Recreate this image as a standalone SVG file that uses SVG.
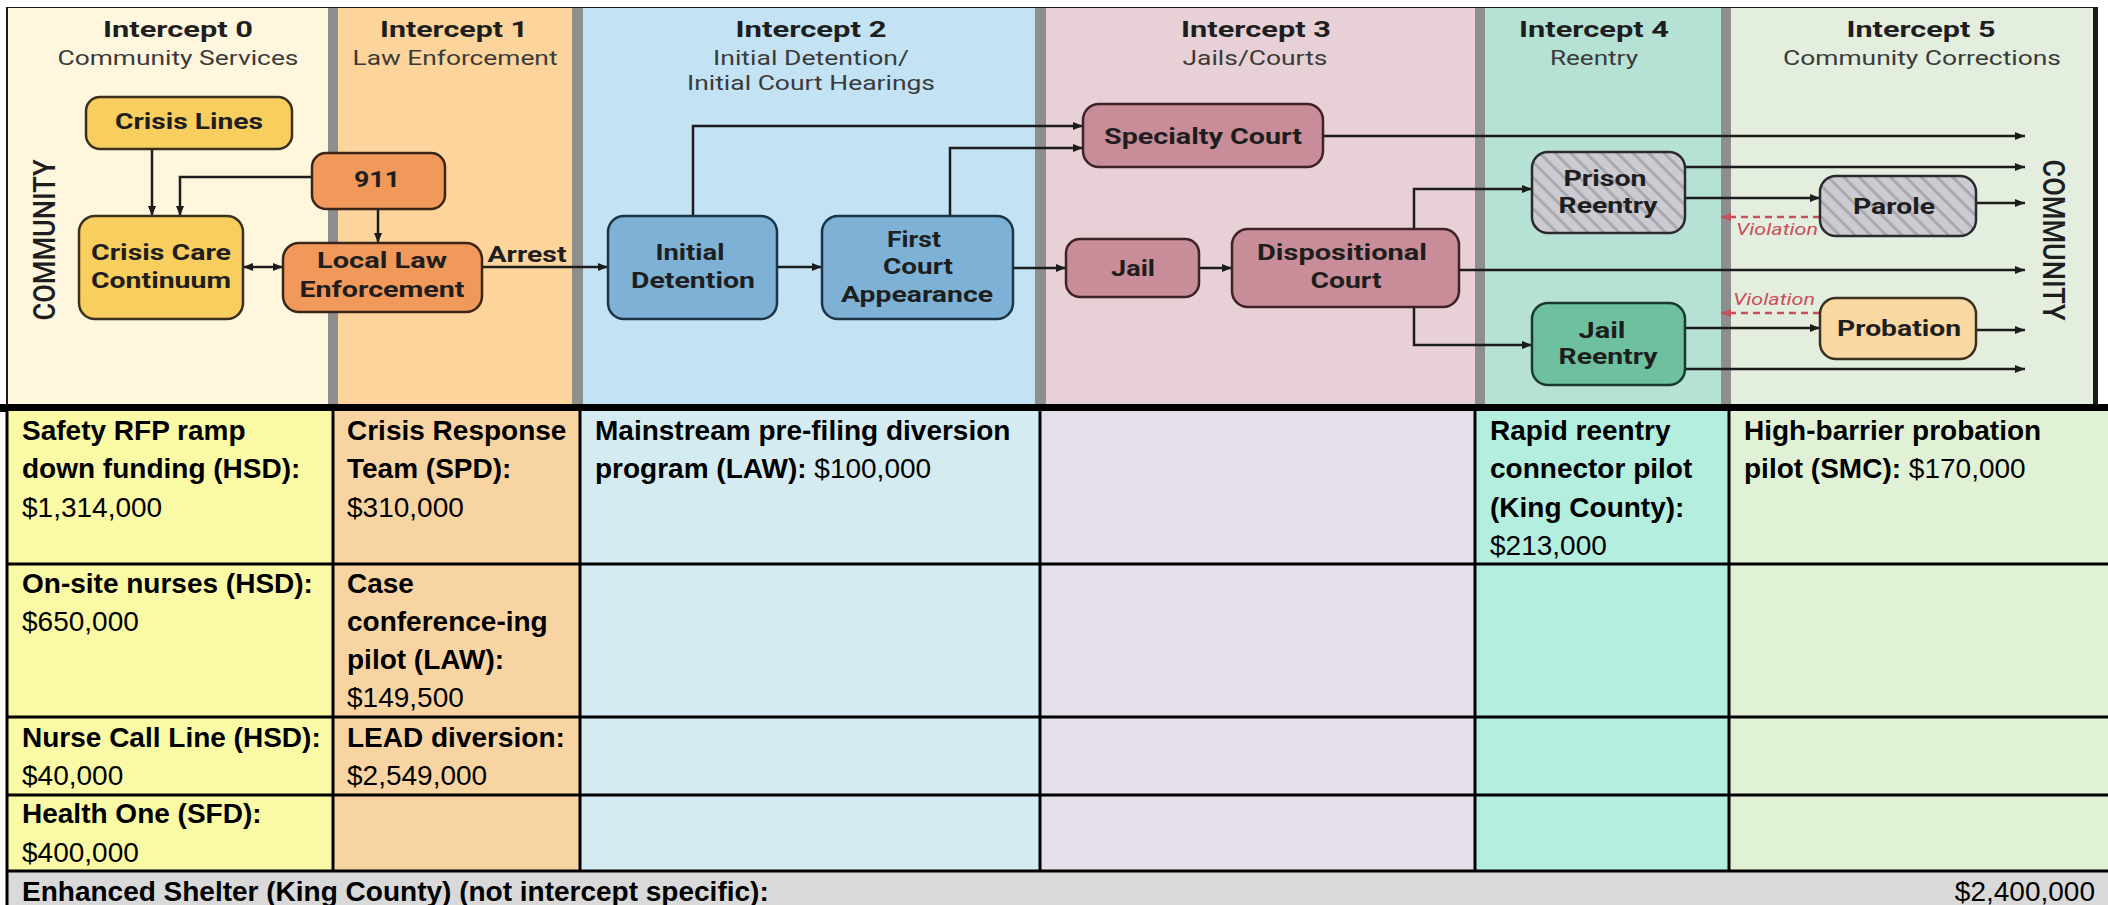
<svg xmlns="http://www.w3.org/2000/svg" width="2108" height="905" viewBox="0 0 2108 905">
<style>
.t{font-family:Roboto,"Liberation Sans",sans-serif;font-weight:bold;font-size:22.5px;fill:#1e1e1e;text-anchor:middle}
.st{font-family:Roboto,"Liberation Sans",sans-serif;font-weight:normal;font-size:21px;fill:#3a3a3a;text-anchor:middle}
.nt{font-family:Roboto,"Liberation Sans",sans-serif;font-weight:bold;font-size:22.5px;fill:#1e1e1e;text-anchor:middle}
.cm{font-family:Roboto,"Liberation Sans",sans-serif;font-weight:500;font-size:32px;fill:#1e1e1e;text-anchor:middle}
.vio{font-family:Roboto,"Liberation Sans",sans-serif;font-style:italic;font-size:17px;fill:#c94f5c}
.ln{fill:none;stroke:#1c1c1c;stroke-width:2.5}
.dash{fill:none;stroke:#c94f5c;stroke-width:2.5;stroke-dasharray:7 5}
.box{stroke-width:2.5}
.sep{fill:#8e8e8e}
.b{font-family:"Liberation Sans",Arial,sans-serif;font-weight:bold;font-size:28px;fill:#000}
.r{font-weight:normal}
.grid{stroke:#000;stroke-width:3;fill:none}
</style>
<defs>
<marker id="ah" viewBox="0 0 10 10" refX="10" refY="5" markerWidth="13" markerHeight="10" markerUnits="userSpaceOnUse" orient="auto-start-reverse"><path d="M0,1 L10,5 L0,9 z" fill="#1c1c1c"/></marker>
<marker id="ahr" viewBox="0 0 10 10" refX="10" refY="5" markerWidth="12" markerHeight="10" markerUnits="userSpaceOnUse" orient="auto"><path d="M0,1 L10,5 L0,9 z" fill="#c94f5c"/></marker>
<pattern id="hatch" patternUnits="userSpaceOnUse" width="11" height="11" patternTransform="rotate(-45)"><rect width="11" height="11" fill="#cbcbd1"/><rect x="0" y="0" width="3" height="11" fill="#a9a9b2"/></pattern>
</defs>
<rect width="2108" height="905" fill="#ffffff"/>
<g id="bands">
<rect x="6" y="7" width="2092" height="398" fill="#1a1a1a"/>
<rect x="8" y="8" width="320" height="397" fill="#fef7de"/>
<rect x="338" y="8" width="234" height="397" fill="#fdd49b"/>
<rect x="583" y="8" width="452" height="397" fill="#c3e3f4"/>
<rect x="1046" y="8" width="429" height="397" fill="#e7d0d6"/>
<rect x="1485" y="8" width="236" height="397" fill="#b6e1d5"/>
<rect x="1731" y="8" width="362" height="397" fill="#e3eede"/>
<rect class="sep" x="328" y="8" width="10" height="397"/>
<rect class="sep" x="572" y="8" width="11" height="397"/>
<rect class="sep" x="1035" y="8" width="11" height="397"/>
<rect class="sep" x="1475" y="8" width="10" height="397"/>
<rect class="sep" x="1721" y="8" width="10" height="397"/>
</g>
<g id="titles">
<text class="t" x="178" y="37" textLength="150" lengthAdjust="spacingAndGlyphs">Intercept 0</text>
<text class="st" x="178" y="65" textLength="241" lengthAdjust="spacingAndGlyphs">Community Services</text>
<text class="t" x="454" y="37" textLength="148" lengthAdjust="spacingAndGlyphs">Intercept 1</text>
<text class="st" x="455" y="65" textLength="205" lengthAdjust="spacingAndGlyphs">Law Enforcement</text>
<text class="t" x="811" y="37" textLength="151" lengthAdjust="spacingAndGlyphs">Intercept 2</text>
<text class="st" x="811" y="65" textLength="196" lengthAdjust="spacingAndGlyphs">Initial Detention/</text>
<text class="st" x="811" y="90" textLength="248" lengthAdjust="spacingAndGlyphs">Initial Court Hearings</text>
<text class="t" x="1256" y="37" textLength="150" lengthAdjust="spacingAndGlyphs">Intercept 3</text>
<text class="st" x="1255" y="65" textLength="145" lengthAdjust="spacingAndGlyphs">Jails/Courts</text>
<text class="t" x="1594" y="37" textLength="150" lengthAdjust="spacingAndGlyphs">Intercept 4</text>
<text class="st" x="1594" y="65" textLength="88" lengthAdjust="spacingAndGlyphs">Reentry</text>
<text class="t" x="1921" y="37" textLength="149" lengthAdjust="spacingAndGlyphs">Intercept 5</text>
<text class="st" x="1922" y="65" textLength="278" lengthAdjust="spacingAndGlyphs">Community Corrections</text>
<text class="cm" transform="translate(55,240) rotate(-90)" textLength="161" lengthAdjust="spacingAndGlyphs">COMMUNITY</text>
<text class="cm" transform="translate(2043,240) rotate(90)" textLength="161" lengthAdjust="spacingAndGlyphs">COMMUNITY</text>
</g>
<g id="connectors">
<path class="ln" d="M152,149 V216" marker-end="url(#ah)"/>
<path class="ln" d="M312,177 H180 V216" marker-end="url(#ah)"/>
<path class="ln" d="M378,209 V243" marker-end="url(#ah)"/>
<path class="ln" d="M243,267 H283" marker-start="url(#ah)" marker-end="url(#ah)"/>
<path class="ln" d="M482,267 H608" marker-end="url(#ah)"/>
<text class="nt" x="527" y="262" textLength="79" lengthAdjust="spacingAndGlyphs">Arrest</text>
<path class="ln" d="M777,267 H822" marker-end="url(#ah)"/>
<path class="ln" d="M693,216 V126 H1083" marker-end="url(#ah)"/>
<path class="ln" d="M950,216 V148 H1083" marker-end="url(#ah)"/>
<path class="ln" d="M1013,268 H1066" marker-end="url(#ah)"/>
<path class="ln" d="M1199,268 H1232" marker-end="url(#ah)"/>
<path class="ln" d="M1323,136 H2025" marker-end="url(#ah)"/>
<path class="ln" d="M1414,229 V189 H1532" marker-end="url(#ah)"/>
<path class="ln" d="M1459,270 H2025" marker-end="url(#ah)"/>
<path class="ln" d="M1414,307 V345 H1532" marker-end="url(#ah)"/>
<path class="ln" d="M1685,167 H2025" marker-end="url(#ah)"/>
<path class="ln" d="M1685,198 H1820" marker-end="url(#ah)"/>
<path class="ln" d="M1976,203 H2025" marker-end="url(#ah)"/>
<path class="ln" d="M1685,328 H1820" marker-end="url(#ah)"/>
<path class="ln" d="M1976,330 H2025" marker-end="url(#ah)"/>
<path class="ln" d="M1685,369 H2025" marker-end="url(#ah)"/>
<path class="dash" d="M1820,217 H1721" marker-end="url(#ahr)"/>
<path class="dash" d="M1820,313 H1721" marker-end="url(#ahr)"/>
<text class="vio" x="1736" y="235" textLength="82" lengthAdjust="spacingAndGlyphs">Violation</text>
<text class="vio" x="1733" y="305" textLength="82" lengthAdjust="spacingAndGlyphs">Violation</text>
</g>
<g id="node-crisis-lines"><rect class="box" x="86" y="97" width="206" height="52" rx="14" fill="#f8ce5e" stroke="#3a3020"/><text class="nt" x="189" y="129" textLength="148" lengthAdjust="spacingAndGlyphs">Crisis Lines</text></g>
<g id="node-911"><rect class="box" x="312" y="153" width="133" height="56" rx="14" fill="#f1995a" stroke="#3a2518"/><text class="nt" x="377" y="187" textLength="46" lengthAdjust="spacingAndGlyphs">911</text></g>
<g id="node-crisis-care"><rect class="box" x="79" y="216" width="164" height="103" rx="16" fill="#f8ce5e" stroke="#3a3020"/><text class="nt" x="161" y="260" textLength="140" lengthAdjust="spacingAndGlyphs">Crisis Care</text><text class="nt" x="161" y="288" textLength="140" lengthAdjust="spacingAndGlyphs">Continuum</text></g>
<g id="node-local-law"><rect class="box" x="283" y="243" width="199" height="69" rx="16" fill="#f1995a" stroke="#3a2518"/><text class="nt" x="382" y="268" textLength="130" lengthAdjust="spacingAndGlyphs">Local Law</text><text class="nt" x="382" y="297" textLength="165" lengthAdjust="spacingAndGlyphs">Enforcement</text></g>
<g id="node-initial-detention"><rect class="box" x="608" y="216" width="169" height="103" rx="16" fill="#7db2d6" stroke="#1d3444"/><text class="nt" x="690" y="260" textLength="69" lengthAdjust="spacingAndGlyphs">Initial</text><text class="nt" x="693" y="288" textLength="124" lengthAdjust="spacingAndGlyphs">Detention</text></g>
<g id="node-first-court"><rect class="box" x="822" y="216" width="191" height="103" rx="16" fill="#7db2d6" stroke="#1d3444"/><text class="nt" x="914" y="247" textLength="54" lengthAdjust="spacingAndGlyphs">First</text><text class="nt" x="918" y="274" textLength="70" lengthAdjust="spacingAndGlyphs">Court</text><text class="nt" x="917" y="302" textLength="152" lengthAdjust="spacingAndGlyphs">Appearance</text></g>
<g id="node-specialty-court"><rect class="box" x="1083" y="104" width="240" height="63" rx="16" fill="#c98d99" stroke="#3e2228"/><text class="nt" x="1203" y="144" textLength="198" lengthAdjust="spacingAndGlyphs">Specialty Court</text></g>
<g id="node-jail"><rect class="box" x="1066" y="239" width="133" height="58" rx="14" fill="#c98d99" stroke="#3e2228"/><text class="nt" x="1133" y="276" textLength="44" lengthAdjust="spacingAndGlyphs">Jail</text></g>
<g id="node-dispositional-court"><rect class="box" x="1232" y="229" width="227" height="78" rx="16" fill="#c98d99" stroke="#3e2228"/><text class="nt" x="1342" y="260" textLength="170" lengthAdjust="spacingAndGlyphs">Dispositional</text><text class="nt" x="1346" y="288" textLength="71" lengthAdjust="spacingAndGlyphs">Court</text></g>
<g id="node-prison-reentry"><rect class="box" x="1532" y="152" width="153" height="81" rx="16" fill="url(#hatch)" stroke="#2a2a2e"/><text class="nt" x="1605" y="186" textLength="83" lengthAdjust="spacingAndGlyphs">Prison</text><text class="nt" x="1608" y="213" textLength="99" lengthAdjust="spacingAndGlyphs">Reentry</text></g>
<g id="node-jail-reentry"><rect class="box" x="1532" y="303" width="153" height="82" rx="16" fill="#6ec09e" stroke="#1a3a2e"/><text class="nt" x="1602" y="338" textLength="47" lengthAdjust="spacingAndGlyphs">Jail</text><text class="nt" x="1608" y="364" textLength="99" lengthAdjust="spacingAndGlyphs">Reentry</text></g>
<g id="node-parole"><rect class="box" x="1820" y="176" width="156" height="60" rx="16" fill="url(#hatch)" stroke="#2a2a2e"/><text class="nt" x="1894" y="214" textLength="82" lengthAdjust="spacingAndGlyphs">Parole</text></g>
<g id="node-probation"><rect class="box" x="1820" y="298" width="156" height="61" rx="16" fill="#f9d8a2" stroke="#3a3020"/><text class="nt" x="1899" y="336" textLength="124" lengthAdjust="spacingAndGlyphs">Probation</text></g>
<g id="table">
<rect x="0" y="404" width="2108" height="8" fill="#000"/>
<g id="cells-fill">
<rect x="7" y="411" width="326" height="460" fill="#f9f9a6"/>
<rect x="333" y="411" width="247" height="460" fill="#f8d4a3"/>
<rect x="580" y="411" width="460" height="460" fill="#d4ebf1"/>
<rect x="1040" y="411" width="435" height="460" fill="#e5dfeb"/>
<rect x="1475" y="411" width="254" height="460" fill="#b3eedf"/>
<rect x="1729" y="411" width="379" height="460" fill="#e0f1d5"/>
<rect x="7" y="871" width="2101" height="34" fill="#d9d9d9"/>
</g>
<g id="grid">
<path class="grid" d="M7,411 V905 M333,411 V871 M580,411 V871 M1040,411 V871 M1475,411 V871 M1729,411 V871"/>
<path class="grid" d="M7,564 H2108 M7,717 H2108 M7,795 H2108 M7,871 H2108"/>
</g>
<g id="cell-0-0"><text class="b" x="22" y="440">Safety RFP ramp</text><text class="b" x="22" y="478">down funding (HSD):</text><text class="b r" x="22" y="517">$1,314,000</text></g>
<g id="cell-0-1"><text class="b" x="22" y="593">On-site nurses (HSD):</text><text class="b r" x="22" y="631">$650,000</text></g>
<g id="cell-0-2"><text class="b" x="22" y="747">Nurse Call Line (HSD):</text><text class="b r" x="22" y="785">$40,000</text></g>
<g id="cell-0-3"><text class="b" x="22" y="823">Health One (SFD):</text><text class="b r" x="22" y="862">$400,000</text></g>
<g id="cell-1-0"><text class="b" x="347" y="440">Crisis Response</text><text class="b" x="347" y="478">Team (SPD):</text><text class="b r" x="347" y="517">$310,000</text></g>
<g id="cell-1-1"><text class="b" x="347" y="593">Case</text><text class="b" x="347" y="631">conference-ing</text><text class="b" x="347" y="669">pilot (LAW):</text><text class="b r" x="347" y="707">$149,500</text></g>
<g id="cell-1-2"><text class="b" x="347" y="747">LEAD diversion:</text><text class="b r" x="347" y="785">$2,549,000</text></g>
<g id="cell-2-0"><text class="b" x="595" y="440">Mainstream pre-filing diversion</text><text class="b" x="595" y="478">program (LAW): <tspan class="r">$100,000</tspan></text></g>
<g id="cell-4-0"><text class="b" x="1490" y="440">Rapid reentry</text><text class="b" x="1490" y="478">connector pilot</text><text class="b" x="1490" y="517">(King County):</text><text class="b r" x="1490" y="555">$213,000</text></g>
<g id="cell-5-0"><text class="b" x="1744" y="440">High-barrier probation</text><text class="b" x="1744" y="478">pilot (SMC): <tspan class="r">$170,000</tspan></text></g>
<g id="cell-total"><text class="b" x="22" y="901">Enhanced Shelter (King County) (not intercept specific):</text><text class="b r" x="2095" y="901" text-anchor="end">$2,400,000</text></g>
</g>
</svg>
